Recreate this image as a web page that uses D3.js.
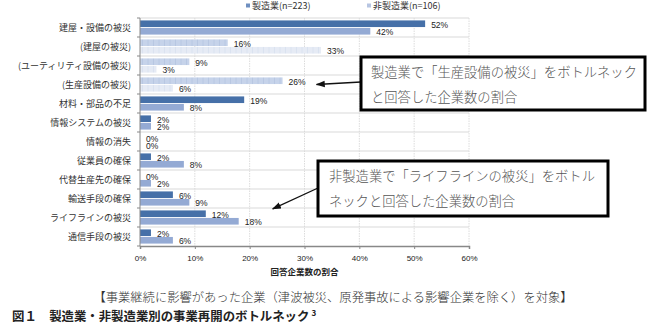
<!DOCTYPE html>
<html>
<head>
<meta charset="utf-8">
<script src="https://cdnjs.cloudflare.com/ajax/libs/d3/7.8.5/d3.min.js"></script>
<style>
  body { margin: 0; background: #fff; }
  svg { display: block; }
  .cat { font-family: "Noto Sans CJK JP", sans-serif; font-size: 9px; fill: #333; }
  .val { font-family: "Liberation Sans", Arial, sans-serif; font-size: 8.5px; fill: #222; }
  .note { font-family: "Noto Sans CJK JP", sans-serif; font-size: 13.3px; fill: #555; font-weight: 300; }
</style>
</head>
<body>
<div id="chart"></div>
<script>
// categories (top to bottom)
const categories = ["建屋・設備の被災", "(建屋の被災)", "(ユーティリティ設備の被災)", "(生産設備の被災)",
    "材料・部品の不足", "情報システムの被災", "情報の消失", "従業員の確保",
    "代替生産先の確保", "輸送手段の確保", "ライフラインの被災", "通信手段の被災"];
const subCategories = ["(建屋の被災)", "(ユーティリティ設備の被災)", "(生産設備の被災)"];
const seriesNames = ["製造業(n=223)", "非製造業(n=106)"];
const manufacturing = [52, 16, 9, 26, 19, 2, 0, 2, 0, 6, 12, 2];
const nonManufacturing = [42, 33, 3, 6, 8, 2, 0, 8, 2, 9, 18, 6];
const xTicks = [0, 10, 20, 30, 40, 50, 60];

const W = 660, H = 330;
const plot = {left: 140, right: 469, top: 18, bottom: 246};

const svg = d3.select("#chart").append("svg")
    .attr("width", W)
    .attr("height", H);

// patterns for the sub-category bars
const defs = svg.append("defs");
[["pat0", "#c6d3ea", "#b3c3e0"], ["pat1", "#e6ebf5", "#d8e0ef"]].forEach(function (p) {
    let pat = defs.append("pattern")
        .attr("id", p[0])
        .attr("patternUnits", "userSpaceOnUse")
        .attr("width", 5.5)
        .attr("height", 10)
    pat.append("rect").attr("width", 5.5).attr("height", 10).attr("fill", p[1])
    pat.append("line").attr("x1", 5).attr("x2", 5).attr("y1", 0).attr("y2", 10)
        .attr("stroke", p[2]).attr("stroke-width", 0.8)
})

let x = d3.scaleLinear()
    .domain([0, 60])
    .range([plot.left, plot.right])

let y = d3.scaleBand()
    .domain(categories)
    .range([plot.top, plot.bottom])

let ySub = d3.scaleBand()
    .domain([0, 1])
    .range([0, y.bandwidth()])
    .paddingInner(0.12)
    .paddingOuter(0.32)

// gridlines
svg.append("g").selectAll("line.vgrid")
    .data(xTicks.slice(1))
    .enter().append("line")
    .attr("x1", d => x(d)).attr("x2", d => x(d))
    .attr("y1", plot.top).attr("y2", plot.bottom)
    .attr("stroke", "#dcdcdc")
    .attr("stroke-dasharray", "1.5,1")

let rowEdges = categories.map(c => y(c));
svg.append("g").selectAll("line.hgrid")
    .data(rowEdges)
    .enter().append("line")
    .attr("x1", plot.left).attr("x2", plot.right)
    .attr("y1", d => d).attr("y2", d => d)
    .attr("stroke", "#d9d9d9")

// left axis ticks
svg.append("g").selectAll("line")
    .data(rowEdges.concat([plot.bottom]))
    .enter().append("line")
    .attr("x1", plot.left - 3).attr("x2", plot.left)
    .attr("y1", d => d).attr("y2", d => d)
    .attr("stroke", "#888")

// bars
let rows = categories.map((c, i) => ({cat: c, vals: [manufacturing[i], nonManufacturing[i]]}));
let solidColors = ["#4670a8", "#94aad4"];

let g = svg.append("g");
rows.forEach(function (r) {
    let sub = subCategories.includes(r.cat);
    r.vals.forEach(function (v, k) {
        let by = y(r.cat) + ySub(k);
        g.append("rect")
            .attr("x", x(0))
            .attr("y", by)
            .attr("width", x(v) - x(0))
            .attr("height", ySub.bandwidth())
            .attr("fill", sub ? "url(#pat" + k + ")" : solidColors[k])
        g.append("text")
            .attr("class", "val")
            .attr("x", x(v) + 6)
            .attr("y", by + ySub.bandwidth() / 2 + 4)
            .text(v + "%")
    })
})

// category labels
svg.append("g").selectAll("text")
    .data(categories)
    .enter().append("text")
    .attr("class", "cat")
    .attr("text-anchor", "end")
    .attr("x", plot.left - 9)
    .attr("y", d => y(d) + y.bandwidth() / 2 + 3.5)
    .text(d => d)

// axes lines
svg.append("line")
    .attr("x1", plot.left).attr("x2", plot.left)
    .attr("y1", plot.top).attr("y2", plot.bottom)
    .attr("stroke", "#888")

let xAxis = svg.append("g")
    .attr("transform", `translate(0, ${plot.bottom})`)
    .call(d3.axisBottom(x).tickValues(xTicks).tickSize(3).tickFormat(d => d + "%"))
xAxis.select(".domain").attr("stroke", "#888").attr("stroke-width", 1.5)
xAxis.selectAll(".tick line").attr("stroke", "#888")
xAxis.selectAll("text")
    .attr("font-family", "Liberation Sans, Arial, sans-serif")
    .attr("font-size", 8)
    .attr("fill", "#222")
    .attr("dy", "1.1em")

svg.append("text")
    .attr("x", (plot.left + plot.right) / 2)
    .attr("y", 275)
    .attr("text-anchor", "middle")
    .attr("font-family", "Noto Sans CJK JP")
    .attr("font-size", 8.5)
    .attr("font-weight", "bold")
    .attr("fill", "#222")
    .text("回答企業数の割合")

// legend
let legendX = [246, 367];
seriesNames.forEach(function (s, k) {
    svg.append("rect")
        .attr("x", legendX[k]).attr("y", 3.5)
        .attr("width", 4).attr("height", 4)
        .attr("fill", k == 0 ? "#6f8fc0" : "#b7c5e2")
    svg.append("text")
        .attr("class", "cat")
        .attr("x", legendX[k] + 6)
        .attr("y", 9)
        .text(s)
})

// annotation boxes and arrows
svg.append("defs").append("marker")
    .attr("id", "arrow")
    .attr("viewBox", "0 0 10 10")
    .attr("refX", 9).attr("refY", 5)
    .attr("markerWidth", 7).attr("markerHeight", 7)
    .attr("orient", "auto-start-reverse")
    .append("path").attr("d", "M0,1.5 L10,5 L0,8.5 Z").attr("fill", "#111")

let notes = [
    {box: [361, 57, 284, 53], lines: ["製造業で「生産設備の被災」をボトルネック", "と回答した企業数の割合"],
        from: [361, 82], cat: "(生産設備の被災)", val: manufacturing[3], dy: 0.5, tx: 10},
    {box: [318, 161, 290, 55], lines: ["非製造業で「ライフラインの被災」をボトル", "ネックと回答した企業数の割合"],
        from: [318, 188], cat: "ライフラインの被災", val: nonManufacturing[10], dy: 0.05, tx: 11}
];
notes.forEach(function (n) {
    let tip = [x(n.val) + 34, y(n.cat) + y.bandwidth() * n.dy];
    svg.append("line")
        .attr("x1", n.from[0]).attr("y1", n.from[1])
        .attr("x2", tip[0]).attr("y2", tip[1])
        .attr("stroke", "#111").attr("stroke-width", 1.3)
        .attr("marker-end", "url(#arrow)")
    svg.append("rect")
        .attr("x", n.box[0]).attr("y", n.box[1])
        .attr("width", n.box[2]).attr("height", n.box[3])
        .attr("fill", "#fff").attr("stroke", "#000").attr("stroke-width", 3)
    n.lines.forEach(function (t, i) {
        svg.append("text")
            .attr("class", "note")
            .attr("x", n.box[0] + n.tx)
            .attr("y", n.box[1] + 20 + i * 25)
            .text(t)
    })
})

// caption and figure title
svg.append("text")
    .attr("x", 333).attr("y", 302)
    .attr("text-anchor", "middle")
    .attr("font-family", "Noto Sans CJK JP")
    .attr("font-size", 12.3)
    .attr("font-weight", 300)
    .attr("fill", "#333")
    .text("【事業継続に影響があった企業（津波被災、原発事故による影響企業を除く）を対象】")

let title = svg.append("text")
    .attr("x", 12).attr("y", 321)
    .attr("font-family", "Noto Sans CJK JP")
    .attr("font-size", 12.4)
    .attr("font-weight", "bold")
    .attr("fill", "#222")
    .text("図１　製造業・非製造業別の事業再開のボトルネック")
title.append("tspan")
    .attr("font-size", 8)
    .attr("dy", -5)
    .attr("dx", 2)
    .text("3")
</script>
</body>
</html>
